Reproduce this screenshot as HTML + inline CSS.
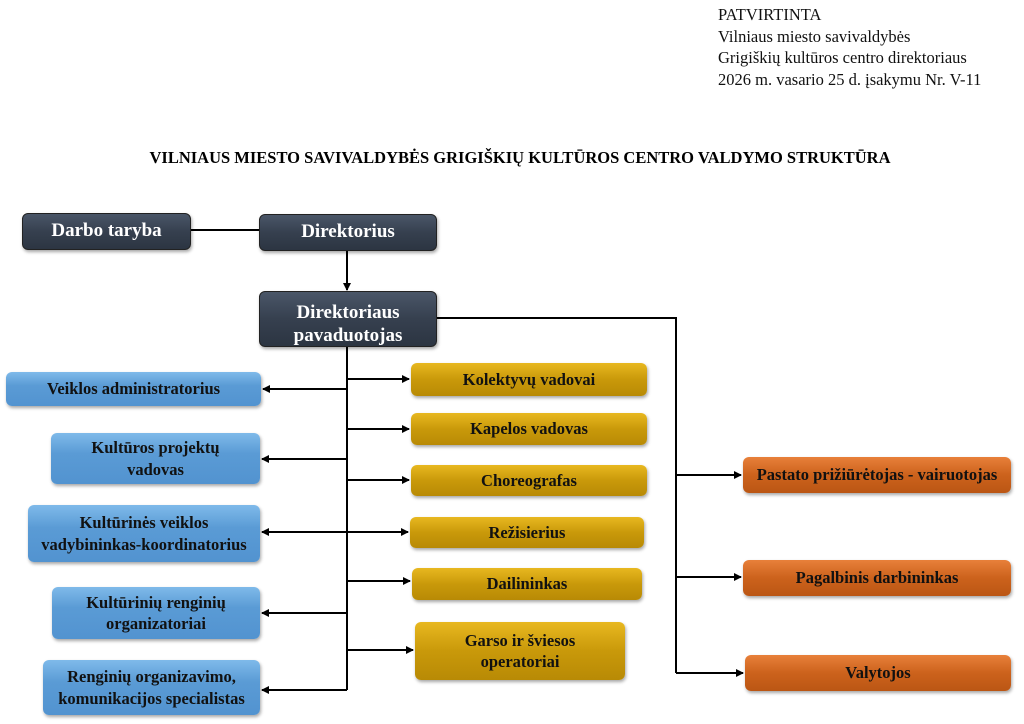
<!DOCTYPE html>
<html><head><meta charset="utf-8"><style>
body{margin:0;width:1024px;height:724px;background:#fff;position:relative;overflow:hidden;font-family:"Liberation Serif",serif}
.b{position:absolute;box-sizing:border-box;border-radius:6px;display:flex;align-items:center;justify-content:center;text-align:center;font-weight:bold;line-height:1.3;box-shadow:1px 2px 3px rgba(0,0,0,.35);white-space:nowrap}
.d{background:linear-gradient(#4a5668,#36404f 50%,#2c3542);color:#fff;font-size:19px;border:1px solid #222}
.bl{background:linear-gradient(#7fbaea,#5a9bd5 40%,#5293d0);color:#111;font-size:16.5px}
.y{background:linear-gradient(#e8b820,#c9990a 50%,#b88a05);color:#111;font-size:16.5px}
.o{background:linear-gradient(#e8803a,#cc621c 50%,#bb5614);color:#111;font-size:16.5px}
.hd{position:absolute;left:718px;top:4px;font-size:16.5px;line-height:21.5px;color:#111}
.t{position:absolute;left:0;width:1040px;top:148px;text-align:center;font-weight:bold;font-size:16.5px}
</style></head><body>
<div class="hd">PATVIRTINTA<br>Vilniaus miesto savivaldybės<br>Grigiškių kultūros centro direktoriaus<br>2026 m. vasario 25 d. įsakymu Nr. V-11</div>
<div class="t">VILNIAUS MIESTO SAVIVALDYBĖS GRIGIŠKIŲ KULTŪROS CENTRO VALDYMO STRUKTŪRA</div>
<svg width="1024" height="724" style="position:absolute;left:0;top:0">
<defs><marker id="a" markerWidth="8" markerHeight="8" refX="7" refY="4" orient="auto" markerUnits="userSpaceOnUse"><path d="M0,0 L8,4 L0,8z" fill="#000"/></marker></defs>
<g stroke="#000" stroke-width="2" fill="none">
<line x1="191" y1="230" x2="259" y2="230"/>
<line x1="347" y1="251" x2="347" y2="290" marker-end="url(#a)"/>
<line x1="347" y1="347" x2="347" y2="690"/>
<line x1="347" y1="389" x2="263" y2="389" marker-end="url(#a)"/>
<line x1="347" y1="459" x2="262" y2="459" marker-end="url(#a)"/>
<line x1="347" y1="532" x2="262" y2="532" marker-end="url(#a)"/>
<line x1="347" y1="613" x2="262" y2="613" marker-end="url(#a)"/>
<line x1="347" y1="690" x2="262" y2="690" marker-end="url(#a)"/>
<line x1="347" y1="379" x2="409" y2="379" marker-end="url(#a)"/>
<line x1="347" y1="429" x2="409" y2="429" marker-end="url(#a)"/>
<line x1="347" y1="480" x2="409" y2="480" marker-end="url(#a)"/>
<line x1="347" y1="532" x2="408" y2="532" marker-end="url(#a)"/>
<line x1="347" y1="581" x2="410" y2="581" marker-end="url(#a)"/>
<line x1="347" y1="650" x2="413" y2="650" marker-end="url(#a)"/>
<polyline points="437,318 676,318 676,673"/>
<line x1="676" y1="475" x2="741" y2="475" marker-end="url(#a)"/>
<line x1="676" y1="577" x2="741" y2="577" marker-end="url(#a)"/>
<line x1="676" y1="673" x2="743" y2="673" marker-end="url(#a)"/>
</g></svg>
<div class="b d" style="left:22px;top:213px;width:169px;height:37px">Darbo taryba</div>
<div class="b d" style="left:259px;top:214px;width:178px;height:37px">Direktorius</div>
<div class="b d" style="left:259px;top:291px;width:178px;height:56px;line-height:23px;padding-top:10px;overflow:hidden">Direktoriaus<br>pavaduotojas</div>
<div class="b bl" style="left:6px;top:372px;width:255px;height:34px">Veiklos administratorius</div>
<div class="b bl" style="left:51px;top:433px;width:209px;height:51px">Kultūros projektų<br>vadovas</div>
<div class="b bl" style="left:28px;top:505px;width:232px;height:57px">Kultūrinės veiklos<br>vadybininkas-koordinatorius</div>
<div class="b bl" style="left:52px;top:587px;width:208px;height:52px">Kultūrinių renginių<br>organizatoriai</div>
<div class="b bl" style="left:43px;top:660px;width:217px;height:55px">Renginių organizavimo,<br>komunikacijos specialistas</div>
<div class="b y" style="left:411px;top:363px;width:236px;height:33px">Kolektyvų vadovai</div>
<div class="b y" style="left:411px;top:413px;width:236px;height:32px">Kapelos vadovas</div>
<div class="b y" style="left:411px;top:465px;width:236px;height:31px">Choreografas</div>
<div class="b y" style="left:410px;top:517px;width:234px;height:31px">Režisierius</div>
<div class="b y" style="left:412px;top:568px;width:230px;height:32px">Dailininkas</div>
<div class="b y" style="left:415px;top:622px;width:210px;height:58px">Garso ir šviesos<br>operatoriai</div>
<div class="b o" style="left:743px;top:457px;width:268px;height:36px">Pastato prižiūrėtojas - vairuotojas</div>
<div class="b o" style="left:743px;top:560px;width:268px;height:36px">Pagalbinis darbininkas</div>
<div class="b o" style="left:745px;top:655px;width:266px;height:36px">Valytojos</div>
</body></html>
